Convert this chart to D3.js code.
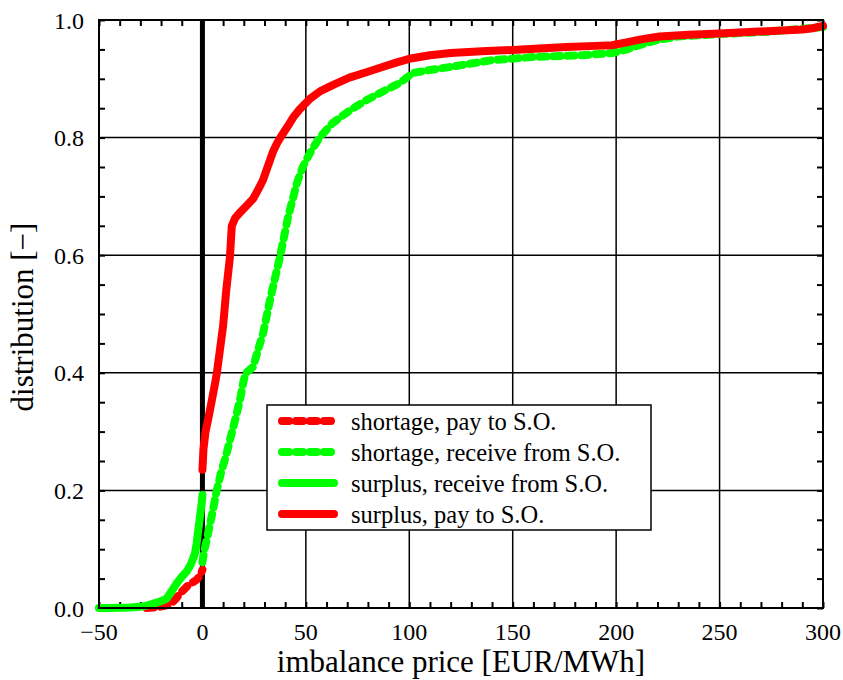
<!DOCTYPE html>
<html><head><meta charset="utf-8">
<script src="https://cdn.jsdelivr.net/npm/d3@7"></script>
<style>body{margin:0;background:#fff}svg{display:block}</style>
</head><body><svg id="c" width="843" height="680"></svg>
<script>
// Data
const xTicks = [-50, 0, 50, 100, 150, 200, 250, 300];
const xTickLabels = ["\u221250", "0", "50", "100", "150", "200", "250", "300"];
const yTicks = [0, 0.2, 0.4, 0.6, 0.8, 1.0];
const yTickLabels = ["0.0", "0.2", "0.4", "0.6", "0.8", "1.0"];
const xTitle = "imbalance price [EUR/MWh]";
const yTitle = "distribution [\u2212]";
const seriesNames = ["shortage, pay to S.O.", "shortage, receive from S.O.", "surplus, receive from S.O.", "surplus, pay to S.O."];

const shortagePay = [[-27,0],[-22,0.001],[-18,0.004],[-15.7,0.006],[-13,0.015],[-10.8,0.025],[-8.5,0.033],[-6.8,0.039],[-4.5,0.044],[-2.8,0.048],[-1,0.055],[0,0.065]];
const shortageReceive = [[0,0.078],[1,0.1],[2.1,0.116],[3.5,0.14],[5,0.165],[6.9,0.2],[9,0.23],[11.7,0.263],[14,0.295],[16.6,0.331],[18.5,0.36],[19.8,0.385],[21,0.4],[24.5,0.41],[27,0.44],[29.3,0.467],[32.7,0.524],[35,0.56],[37.5,0.597],[41.4,0.665],[45.7,0.723],[48.5,0.75],[52,0.774],[56.8,0.801],[63,0.825],[66.5,0.834],[72,0.848],[79.4,0.864],[87,0.878],[95.5,0.893],[101.8,0.91],[110,0.915],[119.6,0.92],[130,0.926],[140.5,0.932],[160,0.937],[184,0.94],[198.5,0.944],[205,0.95],[212,0.958],[220,0.966],[230,0.972],[250,0.976],[273,0.98],[300,0.988]];
const surplusReceive = [[-50,0],[-45,0],[-40,0.0005],[-35,0.001],[-30.2,0.002],[-26,0.005],[-22.1,0.009],[-19,0.013],[-17.3,0.016],[-15,0.028],[-12.4,0.042],[-10,0.053],[-7.6,0.062],[-5.5,0.075],[-3.6,0.093],[-2.8,0.11],[-2,0.133],[-1,0.16],[-0.35,0.178],[0,0.192]];
const surplusPay = [[0,0.235],[0.5,0.27],[1.5,0.3],[3,0.325],[4.6,0.354],[6,0.38],[7,0.40],[8.5,0.44],[10,0.48],[11.5,0.54],[13.3,0.597],[14.2,0.65],[15.8,0.663],[18,0.672],[21,0.683],[24.5,0.696],[27,0.712],[29.3,0.728],[32,0.755],[34,0.775],[36,0.79],[38,0.802],[41,0.818],[44,0.835],[47,0.848],[52,0.866],[57,0.879],[64,0.891],[71,0.902],[80,0.912],[87,0.92],[94,0.928],[100,0.934],[110,0.94],[120,0.944],[135,0.947],[150,0.949],[165,0.952],[176,0.954],[190,0.956],[198,0.957],[205,0.962],[212,0.967],[221,0.972],[235,0.975],[250,0.977],[273,0.981],[290,0.984],[295,0.986],[300,0.99]];

const RED = "#ff0000", GREEN = "#00ff00";
const FONT = "Liberation Serif";
const series = [
  {name: seriesNames[0], data: shortagePay, color: RED, dash: true},
  {name: seriesNames[1], data: shortageReceive, color: GREEN, dash: true},
  {name: seriesNames[2], data: surplusReceive, color: GREEN, dash: false},
  {name: seriesNames[3], data: surplusPay, color: RED, dash: false}
];
const DASH = "7,7";

const svg = d3.select("#c");
const L = 99, T = 20, W = 724, H = 588;
const x = d3.scaleLinear().domain([-50, 300]).range([L, L + W]);
const y = d3.scaleLinear().domain([0, 1]).range([T + H, T]);

// grid
const g = svg.append("g");
g.selectAll(".gx").data(xTicks.slice(1, -1)).join("line")
  .attr("x1", d => x(d)).attr("x2", d => x(d)).attr("y1", T).attr("y2", T + H)
  .attr("stroke", "#000").attr("stroke-width", 1.5);
g.selectAll(".gy").data(yTicks.slice(1, -1)).join("line")
  .attr("x1", L).attr("x2", L + W).attr("y1", d => y(d)).attr("y2", d => y(d))
  .attr("stroke", "#000").attr("stroke-width", 1.5);

// axes with inward minor ticks
const xMinor = d3.range(-50, 301, 10);
const yMinor = d3.range(0, 1.0001, 0.05);
svg.append("g").attr("transform", `translate(0,${T + H})`)
  .call(d3.axisBottom(x).tickValues(xMinor).tickSize(-6).tickFormat(""))
  .call(s => s.select(".domain").remove());
svg.append("g").attr("transform", `translate(0,${T})`)
  .call(d3.axisTop(x).tickValues(xMinor).tickSize(-6).tickFormat(""))
  .call(s => s.select(".domain").remove());
svg.append("g").attr("transform", `translate(${L},0)`)
  .call(d3.axisLeft(y).tickValues(yMinor).tickSize(-6).tickFormat(""))
  .call(s => s.select(".domain").remove());
svg.append("g").attr("transform", `translate(${L + W},0)`)
  .call(d3.axisRight(y).tickValues(yMinor).tickSize(-6).tickFormat(""))
  .call(s => s.select(".domain").remove());
svg.selectAll(".tick line").attr("stroke", "#000").attr("stroke-width", 2);

// tick labels
svg.append("g").selectAll("text").data(xTicks).join("text")
  .attr("x", d => x(d)).attr("y", T + H + 32).attr("text-anchor", "middle")
  .attr("font-family", FONT).attr("font-size", 24).text((d, i) => xTickLabels[i]);
svg.append("g").selectAll("text").data(yTicks).join("text")
  .attr("x", L - 15).attr("y", d => y(d) + 8.5).attr("text-anchor", "end")
  .attr("font-family", FONT).attr("font-size", 24).text((d, i) => yTickLabels[i]);

// titles
svg.append("text").attr("x", x(125)).attr("y", 672).attr("text-anchor", "middle")
  .attr("font-family", FONT).attr("font-size", 31).text(xTitle);
svg.append("text").attr("transform", `translate(33,${y(0.5) + 3}) rotate(-90)`)
  .attr("text-anchor", "middle").attr("font-family", FONT).attr("font-size", 31).text(yTitle);

// zero line
svg.append("line").attr("x1", x(0)).attr("x2", x(0)).attr("y1", y(0)).attr("y2", y(1))
  .attr("stroke", "#000").attr("stroke-width", 5);

// curves
const line = d3.line().x(d => x(d[0])).y(d => y(d[1]));
svg.append("g").selectAll("path").data(series).join("path")
  .attr("d", d => line(d.data)).attr("fill", "none")
  .attr("stroke", d => d.color).attr("stroke-width", 8)
  .attr("stroke-linecap", "round").attr("stroke-linejoin", "round")
  .attr("stroke-dasharray", d => d.dash ? DASH : null);

// frame
svg.append("rect").attr("x", L).attr("y", T).attr("width", W).attr("height", H)
  .attr("fill", "none").attr("stroke", "#000").attr("stroke-width", 2);

// legend
const lg = svg.append("g");
lg.append("rect").attr("x", 267).attr("y", 405).attr("width", 384).attr("height", 125)
  .attr("fill", "#fff").attr("stroke", "#000").attr("stroke-width", 1.5);
series.forEach((s, i) => {
  const yy = 421 + i * 31;
  lg.append("line").attr("x1", 282).attr("x2", s.dash ? 331 : 334).attr("y1", yy).attr("y2", yy)
    .attr("stroke", s.color).attr("stroke-width", 8).attr("stroke-linecap", "round")
    .attr("stroke-dasharray", s.dash ? DASH : null);
  lg.append("text").attr("x", 351).attr("y", yy + 9).attr("font-family", FONT)
    .attr("font-size", 24.5).text(s.name);
});
</script></body></html>
